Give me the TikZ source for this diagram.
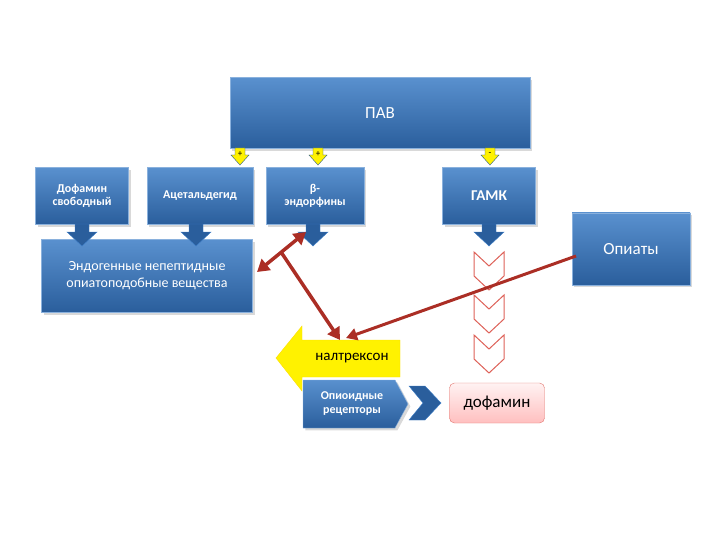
\documentclass[tikz,border=0pt]{standalone}
\usepackage{fontspec}
\setmainfont{Carlito}
\usetikzlibrary{arrows.meta,shadows}
\definecolor{bl}{HTML}{3C7DC6}
\definecolor{bld}{HTML}{2A5E9C}
\definecolor{rd}{HTML}{D63A2E}
\begin{document}
\begin{tikzpicture}[x=1pt,y=-1pt,
 bbox/.style={draw=bl!60!white,line width=0.6pt,top color=bl!85!white,bottom color=bld,text=white,font=\bfseries\fontsize{12}{13}\selectfont,align=center,inner sep=0pt,drop shadow={opacity=0.3}},
 dar/.style={fill=bld,draw=bl},
 yar/.style={fill=yellow,draw=bl!70!black,line width=0.4pt},
 chv/.style={draw=rd!80,fill=white,line width=1pt},
 rar/.style={draw=rd!80!black,line width=3.5pt}]
\useasboundingbox (0,0) rectangle (720,540);
\node[bbox,minimum width=300pt,minimum height=71pt,font=\fontsize{17}{19}\selectfont] (pav) at (380,113) {ПАВ};
\foreach \cx/\nm/\s in {240/y1/+,318/y2/+,490/y3/-}{
 \coordinate (\nm) at (\cx,148);
 \draw[yar] ([shift={(-5,0)}]\nm) -- ([shift={(5,0)}]\nm) -- ([shift={(5,7)}]\nm) -- ([shift={(9,7)}]\nm) -- ([shift={(0,17)}]\nm) -- ([shift={(-9,7)}]\nm) -- ([shift={(-5,7)}]\nm) -- cycle;
 \node[font=\fontsize{9}{9}\selectfont,inner sep=0pt] at ([shift={(0,6)}]\nm) {\s};
}
\node[bbox,minimum width=93pt,minimum height=57pt] (d) at (82,196) {Дофамин\\свободный};
\node[bbox,minimum width=106pt,minimum height=57pt] (a) at (200,196) {Ацетальдегид};
\node[bbox,minimum width=98pt,minimum height=57pt] (b) at (315,196) {β-\\эндорфины};
\node[bbox,minimum width=93pt,minimum height=57pt,font=\bfseries\fontsize{15}{16}\selectfont] (g) at (489,196) {ГАМК};
\node[bbox,minimum width=211pt,minimum height=73pt,font=\fontsize{14}{17}\selectfont] (e) at (147,276) {Эндогенные непептидные\\опиатоподобные вещества};
\foreach \cx/\nm in {82/d1,196/d2,313/d3,489/d4}{
 \coordinate (\nm) at (\cx,224);
 \draw[dar] ([shift={(-7,0)}]\nm) -- ([shift={(7,0)}]\nm) -- ([shift={(7,8)}]\nm) -- ([shift={(15,8)}]\nm) -- ([shift={(0,22)}]\nm) -- ([shift={(-15,8)}]\nm) -- ([shift={(-7,8)}]\nm) -- cycle;
}
\node[bbox,minimum width=118pt,minimum height=72pt,font=\fontsize{17}{19}\selectfont] (op) at (631,249) {Опиаты};
\foreach \cy/\nm in {270/c1,313/c2,353/c3}{
 \coordinate (\nm) at (489,\cy);
 \draw[chv] ([shift={(-15,-18)}]\nm) -- ([shift={(0,-4)}]\nm) -- ([shift={(15,-18)}]\nm) -- ([shift={(15,6)}]\nm) -- ([shift={(0,20)}]\nm) -- ([shift={(-15,6)}]\nm) -- cycle;
}
\coordinate (n) at (338,358);
\fill[yellow,draw=yellow!80!orange] (400,340) -- (400,377) -- (302,377) -- (302,391) -- (276,358) -- (302,326) -- (302,340) -- cycle;
\node[font=\fontsize{15}{17}\selectfont] (nt) at (352,358) {налтрексон};
\coordinate (rr) at (352,404);
\draw[top color=bl!85!white,bottom color=bld,draw=bl!60!white,drop shadow={opacity=0.3}] (303,380) -- (395,380) -- (408,404) -- (395,428) -- (303,428) -- cycle;
\node[text=white,font=\bfseries\fontsize{12}{14}\selectfont,align=center] (r) at (rr) {Опиоидные\\рецепторы};
\coordinate (rc) at (425,403);
\draw[dar] ([shift={(-16,-17)}]rc) -- ([shift={(0,-17)}]rc) -- ([shift={(16,0)}]rc) -- ([shift={(0,17)}]rc) -- ([shift={(-16,17)}]rc) -- ([shift={(-2,0)}]rc) -- cycle;
\node[draw=rd!70,rounded corners=5pt,top color=red!5,bottom color=red!25,minimum width=95pt,minimum height=40pt,font=\fontsize{17}{19}\selectfont] (dof) at (497,403) {дофамин};
\coordinate (t1) at (257,272);
\coordinate (t2) at (306,232);
\coordinate (tm) at (281,252);
\coordinate (nn) at (340,340);
\coordinate (nn2) at (346,338);
\coordinate (os) at (576,256);
\draw[rar,{Triangle[width=14pt,length=12pt]}-{Triangle[width=14pt,length=12pt]}] (t1) -- (t2);
\draw[rar,-{Triangle[width=14pt,length=12pt]}] (tm) -- (nn);
\draw[rar,line width=3pt,-{Triangle[width=12pt,length=11pt]}] (os) -- (nn2);
\end{tikzpicture}
\end{document}
